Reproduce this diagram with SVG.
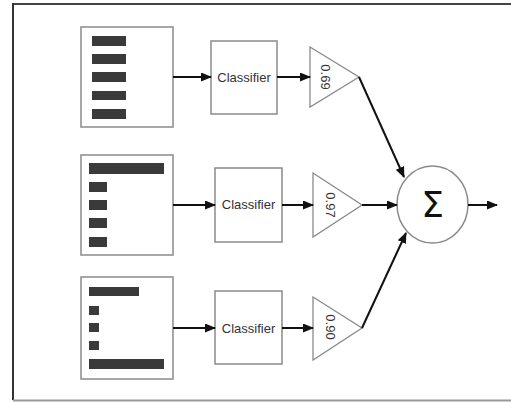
<svg xmlns="http://www.w3.org/2000/svg" width="511" height="402" viewBox="0 0 511 402">
<defs>
<style>
.box{fill:#fff;stroke:#8a8a8a;stroke-width:1.5}
.bar{fill:#3a3a3a}
.tri{fill:#fff;stroke:#8a8a8a;stroke-width:1.3}
.lbl{font-family:"Liberation Sans",Arial,sans-serif;font-size:13px;fill:#333;text-anchor:middle}
.edge{stroke:#111;stroke-width:2;fill:none;marker-end:url(#ah)}
</style>
<marker id="ah" markerUnits="userSpaceOnUse" markerWidth="11" markerHeight="9" refX="10" refY="4.5" orient="auto">
<path d="M0,0 L11,4.5 L0,9 z" fill="#111"/>
</marker>
</defs>
<rect width="511" height="402" fill="#fff"/>
<g id="frame">
<line x1="13" y1="4" x2="511" y2="4" stroke="#444" stroke-width="2"/>
<line x1="13" y1="3" x2="13" y2="400" stroke="#333" stroke-width="2"/>
<line x1="13" y1="400.5" x2="511" y2="400.5" stroke="#999" stroke-width="2"/>
</g>
<g id="input1">
<rect class="box" x="81" y="27" width="92" height="100"/>
<rect class="bar" x="92" y="36" width="34" height="10"/>
<rect class="bar" x="92" y="54" width="34" height="10"/>
<rect class="bar" x="92" y="72" width="34" height="10"/>
<rect class="bar" x="92" y="91" width="34" height="9"/>
<rect class="bar" x="92" y="109" width="34" height="10"/>
</g>
<g id="input2">
<rect class="box" x="81" y="155" width="92" height="100"/>
<rect class="bar" x="89" y="163" width="75" height="11"/>
<rect class="bar" x="89" y="182" width="18" height="10"/>
<rect class="bar" x="89" y="200" width="18" height="10"/>
<rect class="bar" x="89" y="218" width="18" height="10"/>
<rect class="bar" x="89" y="237" width="18" height="10"/>
</g>
<g id="input3">
<rect class="box" x="81" y="277" width="92" height="102"/>
<rect class="bar" x="89" y="287" width="50" height="9"/>
<rect class="bar" x="89" y="306" width="10" height="9"/>
<rect class="bar" x="89" y="323" width="10" height="9"/>
<rect class="bar" x="89" y="341" width="10" height="9"/>
<rect class="bar" x="89" y="359" width="75" height="10"/>
</g>
<g id="classifier1">
<rect class="box" x="211" y="41" width="66" height="73"/>
<text class="lbl" x="244" y="82">Classifier</text>
</g>
<g id="classifier2">
<rect class="box" x="215" y="168" width="67" height="74"/>
<text class="lbl" x="248.5" y="209">Classifier</text>
</g>
<g id="classifier3">
<rect class="box" x="215" y="291" width="67" height="73"/>
<text class="lbl" x="248.5" y="333">Classifier</text>
</g>
<g id="weight1">
<polygon class="tri" points="310,47 359,77 310,107"/>
<text class="lbl" transform="translate(321,77) rotate(90)" x="0" y="0">0.69</text>
</g>
<g id="weight2">
<polygon class="tri" points="313,173 362,205 313,237"/>
<text class="lbl" transform="translate(326,205) rotate(90)" x="0" y="0">0.97</text>
</g>
<g id="weight3">
<polygon class="tri" points="313,297 362,328 313,360"/>
<text class="lbl" transform="translate(326,327) rotate(90)" x="0" y="0">0.90</text>
</g>
<g id="sum">
<ellipse cx="432.5" cy="204.5" rx="35.5" ry="38.5" fill="#fff" stroke="#8a8a8a" stroke-width="1.5"/>
<text x="432.5" y="217" font-family="'DejaVu Sans',sans-serif" font-size="36" fill="#111" text-anchor="middle">Σ</text>
</g>
<g id="connectors">
<line class="edge" x1="173" y1="77" x2="211" y2="77"/>
<line class="edge" x1="277" y1="77" x2="310" y2="77"/>
<line class="edge" x1="173" y1="205" x2="215" y2="205"/>
<line class="edge" x1="282" y1="205" x2="313" y2="205"/>
<line class="edge" x1="173" y1="328" x2="215" y2="328"/>
<line class="edge" x1="282" y1="328" x2="313" y2="328"/>
<line class="edge" x1="359" y1="77" x2="404" y2="177"/>
<line class="edge" x1="362" y1="205" x2="397" y2="205"/>
<line class="edge" x1="362" y1="328" x2="406" y2="233"/>
<line class="edge" x1="468" y1="205" x2="497" y2="205"/>
</g>
</svg>
